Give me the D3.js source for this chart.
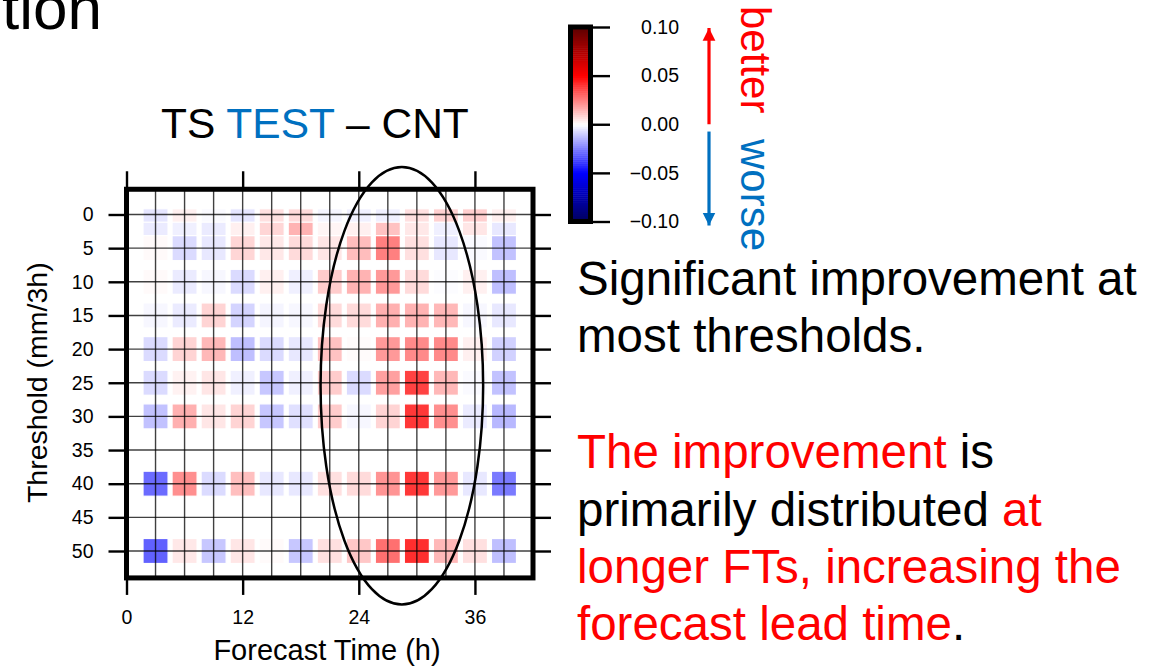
<!DOCTYPE html>
<html>
<head>
<meta charset="utf-8">
<script src="https://cdn.jsdelivr.net/npm/d3@7/dist/d3.min.js"></script>
<style>
  html, body { margin: 0; padding: 0; background: #fff; }
  svg { display: block; font-family: "Liberation Sans", Arial, Helvetica, sans-serif; }
</style>
</head>
<body>
<svg id="chart" width="1170" height="667"></svg>
<script>
// ---------------- data ----------------
const forecastHours = [3, 6, 9, 12, 15, 18, 21, 24, 27, 30, 33, 36, 39];
const thresholds = [1, 3, 5, 10, 15, 20, 25, 30, 40, 50];
const xTickValues = [0, 12, 24, 36];
const yTickValues = [0, 5, 10, 15, 20, 25, 30, 35, 40, 45, 50];
const colorbarTicks = [0.10, 0.05, 0.00, -0.05, -0.10];
const colorbarLabels = ["0.10", "0.05", "0.00", "\u22120.05", "\u22120.10"];

// TS difference (TEST - CNT) per threshold row, one value per forecast hour
const diffThr1  = [-0.005, 0.003, -0.001, -0.005, 0.006, 0.007, -0.002, -0.003, -0.003, 0.006, 0.009, 0.0095, 0.003];
const diffThr3  = [-0.004, -0.003, -0.004, 0.003, 0.008, 0.015, 0.002, 0.003, 0.012, 0.0045, -0.003, 0.005, -0.0045];
const diffThr5  = [0.001, -0.007, -0.0045, 0.008, 0.0045, 0.007, 0.005, 0.013, 0.025, 0.006, -0.0045, -0.001, -0.012];
const diffThr10 = [0.001, -0.004, -0.0015, -0.007, 0.003, -0.003, 0.010, 0.015, 0.020, 0.007, -0.0005, 0.003, -0.0125];
const diffThr15 = [-0.0015, -0.004, 0.0085, -0.0085, -0.002, -0.0015, 0.007, 0.007, 0.0155, 0.015, 0.014, -0.0015, -0.0045];
const diffThr20 = [-0.007, 0.0085, 0.014, -0.0125, -0.007, -0.0045, 0.012, 0.0007, 0.020, 0.023, 0.023, 0.003, -0.009];
const diffThr25 = [-0.007, 0.0025, 0.005, -0.003, -0.011, -0.003, 0.010, -0.007, 0.0186, 0.037, 0.014, -0.001, -0.012];
const diffThr30 = [-0.012, 0.0155, 0.005, 0.0085, -0.011, -0.006, 0.010, -0.0015, 0.0085, 0.039, 0.022, -0.004, -0.014];
const diffThr40 = [-0.029, 0.022, -0.007, 0.0125, -0.0045, -0.0045, 0.006, 0.007, 0.021, 0.039, 0.020, -0.0045, -0.026];
const diffThr50 = [-0.031, 0.0045, -0.011, 0.005, 0.001, -0.011, 0.006, 0.011, 0.028, 0.041, 0.014, 0.006, -0.0125];
const diffRows = [diffThr1, diffThr3, diffThr5, diffThr10, diffThr15, diffThr20, diffThr25, diffThr30, diffThr40, diffThr50];

// ---------------- layout ----------------
const svg = d3.select("#chart");
const FONT = "'Liberation Sans', Arial, Helvetica, sans-serif";
const RED = "#ff0000", BLUE = "#0070c0";

const x = d3.scaleLinear().domain([0, 42]).range([126.5, 533]);
const y = d3.scaleLinear().domain([0, 50]).range([214.5, 551]);
const frameTop = y(-3.75), frameBottom = y(54);
const frameLeft = x(0), frameRight = x(42);

const color = d3.scaleLinear()
  .domain([-0.1, -0.05, 0, 0.05, 0.1])
  .range(["#00005c", "#0000ff", "#ffffff", "#ff0000", "#5c0000"])
  .clamp(true);

// slide title fragment (cut off at the top, as in the slide)
svg.append("text").attr("x", 2).attr("y", 29).attr("font-size", 62)
  .attr("fill", "#000").text("tion");

// chart title
const title = svg.append("text").attr("x", 161).attr("y", 138).attr("font-size", 42.5);
title.append("tspan").attr("fill", "#000").text("TS ");
title.append("tspan").attr("fill", BLUE).text("TEST");
title.append("tspan").attr("fill", "#000").text(" \u2013 CNT");

// cells
const cellW = (x(3) - x(0)) - 4;
const cellH = 25;
const cells = [];
thresholds.forEach((t, i) => {
  forecastHours.forEach((h, j) => cells.push({ t, h, v: diffRows[i][j] }));
});
svg.append("g").selectAll("rect").data(cells).join("rect")
  .attr("x", d => x(d.h) - cellW / 2)
  .attr("y", d => y(d.t) - cellH / 2)
  .attr("width", cellW)
  .attr("height", cellH)
  .attr("fill", d => color(d.v))
  .attr("stroke", "#fff")
  .attr("stroke-width", 1.2);

// grid lines
const grid = svg.append("g").attr("stroke", "#000").attr("stroke-width", 1.4).attr("stroke-opacity", 0.75);
grid.selectAll("line.v").data(d3.range(3, 42, 3)).join("line")
  .attr("x1", d => x(d)).attr("x2", d => x(d))
  .attr("y1", frameTop).attr("y2", frameBottom);
grid.selectAll("line.h").data(yTickValues).join("line")
  .attr("y1", d => y(d)).attr("y2", d => y(d))
  .attr("x1", frameLeft).attr("x2", frameRight);

// axes
const axisLeft = d3.axisLeft(y).tickValues(yTickValues).tickSize(18).tickPadding(15);
const gL = svg.append("g").attr("transform", `translate(${frameLeft},0)`).call(axisLeft);
const axisRight = d3.axisRight(y).tickValues(yTickValues).tickSize(18).tickFormat("");
const gR = svg.append("g").attr("transform", `translate(${frameRight},0)`).call(axisRight);
const axisBottom = d3.axisBottom(x).tickValues(xTickValues).tickSize(17).tickPadding(15);
const gB = svg.append("g").attr("transform", `translate(0,${frameBottom})`).call(axisBottom);
const axisTop = d3.axisTop(x).tickValues(xTickValues).tickSize(18).tickFormat("");
const gT = svg.append("g").attr("transform", `translate(0,${frameTop})`).call(axisTop);
[gL, gR, gB, gT].forEach(g => {
  g.select(".domain").remove();
  g.selectAll(".tick line").attr("stroke", "#000").attr("stroke-width", 2.4);
  g.selectAll(".tick text").attr("font-family", FONT).attr("font-size", 19.5).attr("fill", "#000");
});

// frame
svg.append("rect")
  .attr("x", frameLeft).attr("y", frameTop)
  .attr("width", frameRight - frameLeft).attr("height", frameBottom - frameTop)
  .attr("fill", "none").attr("stroke", "#000").attr("stroke-width", 5);

// axis titles
svg.append("text").attr("x", 327).attr("y", 660)
  .attr("text-anchor", "middle").attr("font-size", 29).attr("fill", "#000")
  .text("Forecast Time (h)");
svg.append("text").attr("transform", `translate(47,${(y(0) + y(50)) / 2}) rotate(-90)`)
  .attr("text-anchor", "middle").attr("font-size", 28.5).attr("fill", "#000")
  .text("Threshold (mm/3h)");

// annotation ellipse
svg.append("ellipse")
  .attr("cx", x(28.45)).attr("cy", y(25.45))
  .attr("rx", x(8.4) - x(0)).attr("ry", y(32.5) - y(0))
  .attr("fill", "none").attr("stroke", "#000").attr("stroke-width", 2.5);

// colour bar
const cb = d3.scaleLinear().domain([-0.1, 0.1]).range([221.5, 27]);
const cbX = 570.5, cbW = 20;
const steps = d3.range(-0.1, 0.1, 0.002);
svg.append("g").selectAll("rect").data(steps).join("rect")
  .attr("x", cbX).attr("width", cbW)
  .attr("y", d => cb(d + 0.002)).attr("height", cb(0) - cb(0.002) + 0.5)
  .attr("fill", d => color(d + 0.001));
svg.append("rect").attr("x", cbX).attr("y", cb(0.1)).attr("width", cbW)
  .attr("height", cb(-0.1) - cb(0.1)).attr("fill", "none")
  .attr("stroke", "#000").attr("stroke-width", 5);
const cbAxis = d3.axisRight(cb).tickValues(colorbarTicks).tickSize(17).tickPadding(0)
  .tickFormat((d, i) => colorbarLabels[i]);
const gC = svg.append("g").attr("transform", `translate(${cbX + cbW + 2.5},0)`).call(cbAxis);
gC.select(".domain").remove();
gC.selectAll(".tick line").attr("stroke", "#000").attr("stroke-width", 2.4);
gC.selectAll(".tick text").attr("font-family", FONT).attr("font-size", 19.5).attr("fill", "#000")
  .attr("text-anchor", "end").attr("x", 86);

// better / worse arrows
const defs = svg.append("defs");
[["arrRed", RED], ["arrBlue", BLUE]].forEach(([id, c]) => {
  defs.append("marker").attr("id", id).attr("viewBox", "0 0 10 10")
    .attr("refX", 10).attr("refY", 5).attr("markerWidth", 4).attr("markerHeight", 5)
    .attr("markerUnits", "strokeWidth").attr("orient", "auto")
    .append("path").attr("d", "M0,0 L10,5 L0,10 Z").attr("fill", c);
});
svg.append("line").attr("x1", 709).attr("x2", 709).attr("y1", cb(0)).attr("y2", cb(0.1) + 1)
  .attr("stroke", RED).attr("stroke-width", 3.2).attr("marker-end", "url(#arrRed)");
svg.append("line").attr("x1", 709).attr("x2", 709).attr("y1", cb(-0.0075)).attr("y2", cb(-0.1) + 4)
  .attr("stroke", BLUE).attr("stroke-width", 3.2).attr("marker-end", "url(#arrBlue)");
svg.append("text").attr("transform", "translate(741,6) rotate(90)")
  .attr("font-size", 42).attr("fill", RED).text("better");
svg.append("text").attr("transform", "translate(741,139) rotate(90)")
  .attr("font-size", 42).attr("fill", BLUE).text("worse");

// explanatory text
const lines = [
  { y: 295, parts: [["Significant improvement at", "#000"]] },
  { y: 352, parts: [["most thresholds.", "#000"]] },
  { y: 468, parts: [["The improvement", RED], [" is", "#000"]] },
  { y: 526, parts: [["primarily distributed ", "#000"], ["at", RED]] },
  { y: 583, parts: [["longer FTs, increasing the", RED]] },
  { y: 640, parts: [["forecast lead time", RED], [".", "#000"]] }
];
lines.forEach(l => {
  const t = svg.append("text").attr("x", 577).attr("y", l.y).attr("font-size", 47.5);
  l.parts.forEach(([s, c]) => t.append("tspan").attr("fill", c).text(s));
});
</script>
</body>
</html>
